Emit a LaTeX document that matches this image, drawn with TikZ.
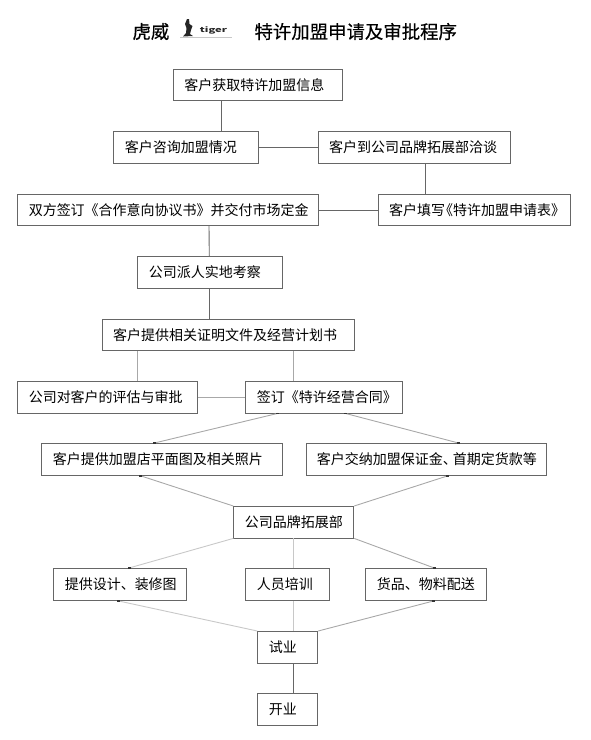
\documentclass[tikz,border=0pt]{standalone}
\usepackage{fontspec}
\usepackage{xcolor}
\setmainfont{Noto Sans CJK SC}
\newfontfamily\titlefont[FakeBold=0.5]{Noto Sans CJK SC}
\definecolor{boxedge}{HTML}{666666}
\definecolor{linedark}{HTML}{666666}
\definecolor{linemid}{HTML}{A8A8A8}
\definecolor{linepale}{HTML}{C8C8C8}
\definecolor{tipdark}{HTML}{333333}

\begin{document}
\begin{tikzpicture}[x=1pt,y=-1pt,
  stepbox/.style={draw=boxedge, line width=0.9pt, inner xsep=11pt, inner ysep=0pt, font=\fontsize{14}{16}\selectfont, align=left, anchor=north west},
  titletext/.style={font=\fontsize{18.4}{20}\titlefont, anchor=west},
  darkline/.style={linedark, line width=0.9pt},
  midline/.style={linemid, line width=0.9pt},
  paleline/.style={linepale, line width=0.9pt},
  tipdot/.style={rectangle, fill=tipdark, inner sep=0pt, minimum width=3pt, minimum height=1.6pt},
]
\useasboundingbox (0,0) rectangle (590,740);
% Title
\node[titletext] (brand) at (129,31.5) {虎威};
\node[titletext] (title) at (251,31.5) {特许加盟申请及审批程序};
% Logo
\draw[linepale, line width=0.8pt] (180,37.5) -- (232,37.5);
\fill[black!85] (187,19) -- (189,19) -- (189.5,24) -- (192.5,26) -- (191,30) -- (190,34) -- (193,36) -- (183,36.5) -- (186,33) -- (186.5,28) -- (185,24) -- cycle;
\node[font=\fontsize{7}{7}\selectfont\bfseries, text=black!85, inner sep=0pt] (logotext) at (213.5,30) {\scalebox{1.6}[1]{tiger}};
% Boxes
\foreach \name/\xa/\xb/\ya/\yb/\txt in {%
  info/173/341.5/69/100/{客户获取特许加盟信息},
  consult/113.3/257.6/131/163/{客户咨询加盟情况},
  visit/317.6/509.6/131/163/{客户到公司品牌拓展部洽谈},
  agreement/17.3/317.6/194/225/{双方签订《合作意向协议书》并交付市场定金},
  apply/377.6/569.6/194/225/{客户填写\kern-6pt《特许加盟申请表》},
  inspect/137.3/281.7/256/287.7/{公司派人实地考察},
  docs/101.7/353.7/319/350/{客户提供相关证明文件及经营计划书},
  review/17.3/197.3/381/412.5/{公司对客户的评估与审批},
  contract/245.3/401.7/381/412.5/{签订《特许经营合同》},
  plan/41.4/282/443/475/{客户提供加盟店平面图及相关照片},
  deposit/305.5/546/443/475/{客户交纳加盟保证金、\kern-4pt首期定货款等},
  dept/233.3/353.3/506/537.5/{公司品牌拓展部},
  design/53.3/185.7/568/600/{提供设计、装修图},
  train/245.3/329.3/568/600/{人员培训},
  goods/365.3/485.7/568/600/{货品、物料配送},
  trial/257.3/317.3/631/662.5/{试业},
  opening/257.3/317.3/693/724.5/{开业}%
} {
  \pgfmathsetmacro{\boxw}{\xb-\xa-22}
  \pgfmathsetmacro{\boxh}{\yb-\ya}
  \node[stepbox, text width=\boxw pt, minimum height=\boxh pt] (\name) at (\xa,\ya) {\txt};
}
% Straight links
\draw[darkline] ([xshift=48.3pt]info.south west) -- ([xshift=108pt]consult.north west);
\draw[darkline] (consult.east) -- (visit.west);
\draw[darkline] ([xshift=108pt]visit.south west) -- ([xshift=48pt]apply.north west);
\draw[darkline] (apply.west) -- (agreement.east);
\draw[darkline] ([xshift=191.7pt]agreement.south west) -- ([xshift=72pt]inspect.north west);
\draw[darkline] ([xshift=72pt]inspect.south west) -- ([xshift=107.6pt]docs.north west);
\draw[midline] ([xshift=35.6pt]docs.south west) -- ([xshift=120pt]review.north west);
\draw[midline] ([xshift=192pt]docs.south west) -- ([xshift=48.4pt]contract.north west);
\draw[midline] (review.east) -- (contract.west);
\draw[paleline] ([xshift=60pt]dept.south west) -- ([xshift=48pt]train.north west);
\draw[paleline] ([xshift=48pt]train.south west) -- ([xshift=36pt]trial.north west);
\draw[darkline] ([xshift=36pt]trial.south west) -- ([xshift=36pt]opening.north west);
% Slanted links
\draw[midline] ([xshift=32.4pt]contract.south west) node[tipdot] (tipa) {} -- ([xshift=113pt]plan.north west) node[tipdot] (tipb) {};
\draw[midline] ([xshift=100pt]contract.south west) node[tipdot] (tipc) {} -- ([xshift=153pt]deposit.north west) node[tipdot] (tipd) {};
\draw[midline] ([xshift=99.5pt]plan.south west) node[tipdot] (tipe) {} -- (dept.north west);
\draw[midline] ([xshift=142pt]deposit.south west) node[tipdot] (tipf) {} -- (dept.north east);
\draw[paleline] (dept.south west) -- ([xshift=75.7pt]design.north west) node[tipdot] (tipg) {};
\draw[midline] (dept.south east) -- ([xshift=69pt]goods.north west) node[tipdot] (tiph) {};
\draw[paleline] ([xshift=65pt]design.south west) node[tipdot] (tipi) {} -- (trial.north west);
\draw[midline] ([xshift=68.5pt]goods.south west) node[tipdot] (tipj) {} -- (trial.north east);
\end{tikzpicture}
\end{document}
